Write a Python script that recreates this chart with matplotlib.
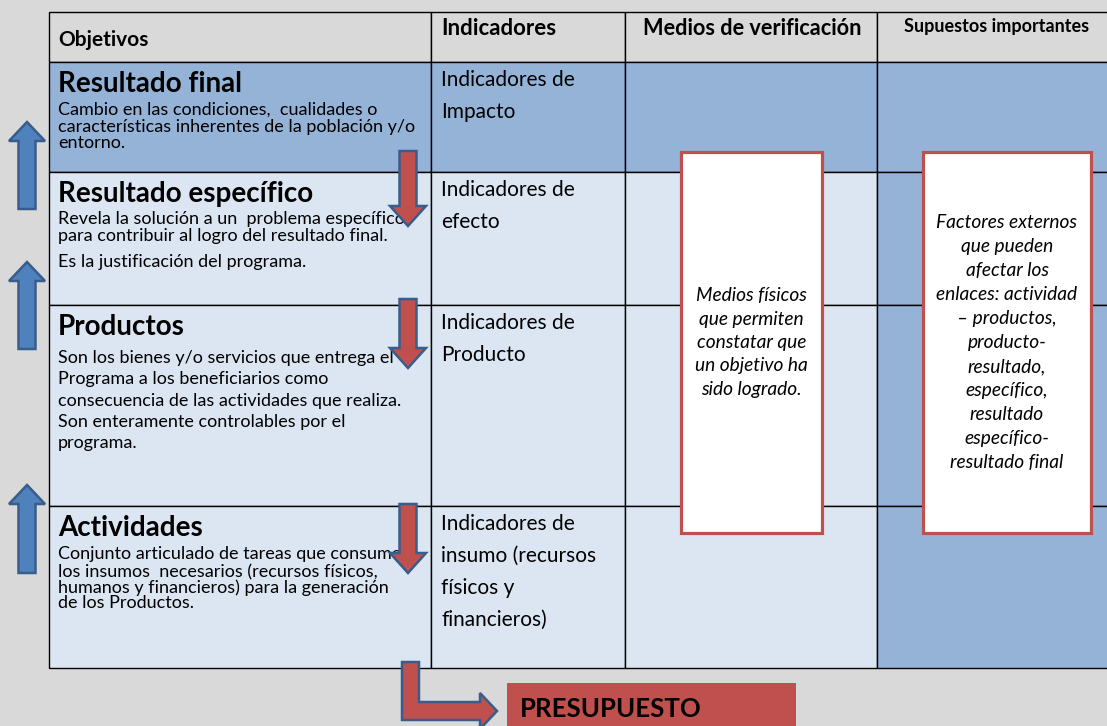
import matplotlib
matplotlib.use("Agg")
import matplotlib.pyplot as plt
from matplotlib.patches import Rectangle, Polygon

plt.rcParams["font.family"] = ["Lato", "DejaVu Sans"]

# ── Content ──────────────────────────────────────────────────
headers = ["Objetivos", "Indicadores", "Medios de verificación", "Supuestos importantes"]
row_titles = ["Resultado final", "Resultado específico", "Productos", "Actividades"]
row_bodies = [
    ["Cambio en las condiciones,  cualidades o",
     "características inherentes de la población y/o",
     "entorno."],
    ["Revela la solución a un  problema específico",
     "para contribuir al logro del resultado final.",
     "Es la justificación del programa."],
    ["Son los bienes y/o servicios que entrega el",
     "Programa a los beneficiarios como",
     "consecuencia de las actividades que realiza.",
     "Son enteramente controlables por el",
     "programa."],
    ["Conjunto articulado de tareas que consumen",
     "los insumos  necesarios (recursos físicos,",
     "humanos y financieros) para la generación",
     "de los Productos."],
]
indicators = [
    ["Indicadores de", "Impacto"],
    ["Indicadores de", "efecto"],
    ["Indicadores de", "Producto"],
    ["Indicadores de", "insumo (recursos", "físicos y", "financieros)"],
]
medios_text = ["Medios físicos", "que permiten", "constatar que", "un objetivo ha", "sido logrado."]
supuestos_text = ["Factores externos", "que pueden", "afectar los", "enlaces: actividad",
                  "– productos,", "producto-", "resultado,", "específico,", "resultado",
                  "específico-", "resultado final"]
budget_label = "PRESUPUESTO"

# ── Layout (pixels) ──────────────────────────────────────────
W, H = 1107, 726
col_x = [49, 431, 625, 877, 1110]
row_y = [12, 62, 172, 305, 506, 668]
body_offsets = [[23, 40, 56], [22, 39, 65], [28, 49, 71, 92, 113], [23, 41, 57, 72]]

BG = "#D9D9D9"
MID = "#95B3D7"
LIGHT = "#DCE6F2"
RED = "#C0504D"
BLUE = "#4F81BD"
BLUE_EDGE = "#385D8A"

fig = plt.figure(figsize=(W / 100, H / 100), dpi=100)
fig.patch.set_facecolor(BG)
ax = fig.add_axes([0, 0, 1, 1])
ax.set_xlim(0, W)
ax.set_ylim(H, 0)
ax.axis("off")

# ── Table cells ──────────────────────────────────────────────
for r in range(5):
    for c in range(4):
        if r == 0:
            fc = BG
        elif r == 1 or c == 3:
            fc = MID
        else:
            fc = LIGHT
        ax.add_patch(Rectangle((col_x[c], row_y[r]), col_x[c + 1] - col_x[c],
                               row_y[r + 1] - row_y[r], facecolor=fc,
                               edgecolor="black", linewidth=1.0, zorder=1))

# ── Header ───────────────────────────────────────────────────
ax.text(58, 46, headers[0], fontsize=15, fontweight="bold", va="baseline", zorder=3)
ax.text(441, 35, headers[1], fontsize=16, fontweight="bold", va="baseline", zorder=3)
ax.text(752, 35, headers[2], fontsize=15.7, fontweight="bold", va="baseline", ha="center", zorder=3)
ax.text(997, 32, headers[3], fontsize=13, fontweight="bold", va="baseline", ha="center", zorder=3)

# ── Rows ─────────────────────────────────────────────────────
for i in range(4):
    top = row_y[i + 1]
    ax.text(58, top + 30, row_titles[i], fontsize=20, fontweight="bold", va="baseline", zorder=3)
    for line, off in zip(row_bodies[i], body_offsets[i]):
        ax.text(58, top + 30 + off, line, fontsize=13, va="baseline", zorder=3)
    for k, line in enumerate(indicators[i]):
        ax.text(441, top + 24 + 32 * k, line, fontsize=15, va="baseline", zorder=3)

# ── Red-bordered boxes ──────────────────────────────────────
for (x0, x1), lines, y0, step in [((681, 822), medios_text, 301, 23.5),
                                   ((923, 1091), supuestos_text, 228, 24)]:
    ax.add_patch(Rectangle((x0, 152), x1 - x0, 533 - 152, facecolor="white",
                           edgecolor=RED, linewidth=2.3, zorder=4))
    for k, line in enumerate(lines):
        ax.text((x0 + x1) / 2, y0 + step * k, line, fontsize=13.8, style="italic",
                ha="center", va="baseline", zorder=5)

# ── Arrows ───────────────────────────────────────────────────
def up_arrow(cx, top, bottom):
    pts = [(cx, top), (cx + 18, top + 19), (cx + 8.5, top + 19), (cx + 8.5, bottom),
           (cx - 8.5, bottom), (cx - 8.5, top + 19), (cx - 18, top + 19)]
    ax.add_patch(Polygon(pts, closed=True, facecolor=BLUE, edgecolor=BLUE_EDGE,
                         linewidth=1.8, zorder=6))


def down_arrow(cx, top, tip):
    pts = [(cx - 8.5, top), (cx + 8.5, top), (cx + 8.5, tip - 20), (cx + 18, tip - 20),
           (cx, tip), (cx - 18, tip - 20), (cx - 8.5, tip - 20)]
    ax.add_patch(Polygon(pts, closed=True, facecolor=RED, edgecolor=BLUE_EDGE,
                         linewidth=1.8, zorder=6))


for top, bottom in [(122, 209), (262, 349), (485, 573)]:
    up_arrow(27, top, bottom)
for top, tip in [(151, 226), (299, 368), (504, 573)]:
    down_arrow(408, top, tip)

# bent arrow towards the budget box
bent = [(402, 662), (419, 662), (419, 702), (480, 702), (480, 693), (497, 711),
        (480, 729), (480, 720), (402, 720)]
ax.add_patch(Polygon(bent, closed=True, facecolor=RED, edgecolor=BLUE_EDGE,
                     linewidth=1.8, zorder=6))

# ── Budget box ───────────────────────────────────────────────
ax.add_patch(Rectangle((507, 683), 796 - 507, 60, facecolor=RED, edgecolor="none", zorder=2))
ax.text(520, 717, budget_label, fontsize=18.5, fontweight="bold", va="baseline", zorder=3)

fig.savefig("out.png", dpi=100, facecolor=fig.get_facecolor())
